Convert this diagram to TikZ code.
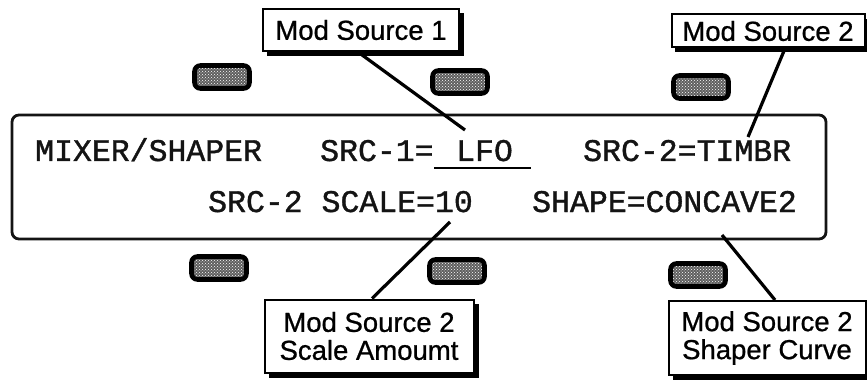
\documentclass[tikz,border=0pt]{standalone}
\usepackage{fontspec}
\setmainfont{Liberation Sans}
\newfontfamily\lcdfont[FakeBold=1.2]{Liberation Mono}
\newfontfamily\calloutfont[FakeBold=0.8]{Liberation Sans}
\usepackage{tikz}
\usetikzlibrary{calc,patterns}
\definecolor{panelink}{RGB}{20,20,20}
\definecolor{knobgray}{RGB}{95,95,95}
\tikzset{
  panel/.style={draw=panelink,line width=2.8pt,rounded corners=7pt},
  lcd/.style={inner sep=0pt,anchor=base west,text=panelink,
              font=\lcdfont\fontsize{31.5}{32}\selectfont},
  callout/.style={draw=black,line width=2pt,fill=white,inner sep=2pt,align=center,
                  font=\calloutfont\fontsize{27.5}{28}\selectfont},
  shadowbox/.style={fill=black},
  pointer/.style={black,line width=3.2pt},
  uline/.style={black,line width=2.4pt},
  knob/.style={draw=black,line width=4.6pt,rounded corners=6pt,minimum width=55pt,
               minimum height=23pt,preaction={fill=knobgray},
               pattern=crosshatch dots,pattern color=white},
}

\begin{document}
\begin{tikzpicture}[x=1pt,y=-1pt]
  \path[use as bounding box] (0,0) rectangle (867,382);

  % display window
  \draw[panel] (12,115) rectangle (826,239);

  % soft keys above and below the window
  \node[knob] (k1) at (222,77) {};
  \node[knob] (k2) at (460,82) {};
  \node[knob] (k3) at (701,87) {};
  \node[knob] (k4) at (219,268) {};
  \node[knob] (k5) at (457,271) {};
  \node[knob] (k6) at (698,275) {};

  % lcd text
  \node[lcd] (mixer) at (35,161) {MIXER/SHAPER};
  \node[lcd] (src1) at (320,161) {SRC-1=};
  \node[lcd] (lfo) at (456,161) {LFO};
  \node[lcd] (src2) at (583,161) {SRC-2=TIMBR};
  \node[lcd] (scale) at (208,212) {SRC-2 SCALE=10};
  \node[lcd] (shape) at (532,212) {SHAPE=CONCAVE2};
  \draw[uline] ([xshift=-22pt,yshift=-7pt]lfo.base west) -- ([xshift=18pt,yshift=-7pt]lfo.base east);

  % shadows under the callouts
  \fill[shadowbox] (267,13) rectangle (464,56);
  \fill[shadowbox] (675,19) rectangle (870,52);
  \fill[shadowbox] (269,304) rectangle (479,378);
  \fill[shadowbox] (673,306) rectangle (870,380);

  % callouts
  \node[callout,minimum width=196pt,minimum height=42pt] (srcone) at (361,30) {Mod Source 1};
  \node[callout,minimum width=193pt,minimum height=33pt] (srctwo) at (768,31) {Mod Source 2};
  \node[callout,minimum width=209pt,minimum height=73pt] (amount) at (369,336)
    {Mod Source 2\\Scale Amoumt};
  \node[callout,minimum width=197pt,minimum height=74pt] (curve) at (767,338)
    {Mod Source 2\\Shaper Curve};

  \coordinate (lfotip) at (465,130);
  \coordinate (timbrtip) at (748,137);
  \coordinate (scaletip) at (450,222);
  \coordinate (shapetip) at (722,235);

  \draw[pointer] ([xshift=-3pt]srcone.south) -- (lfotip);
  \draw[pointer] ([xshift=17pt]srctwo.south) -- (timbrtip);
  \draw[pointer] ([xshift=3pt]amount.north) -- (scaletip);
  \draw[pointer] ([xshift=8pt]curve.north) -- (shapetip);
\end{tikzpicture}
\end{document}
